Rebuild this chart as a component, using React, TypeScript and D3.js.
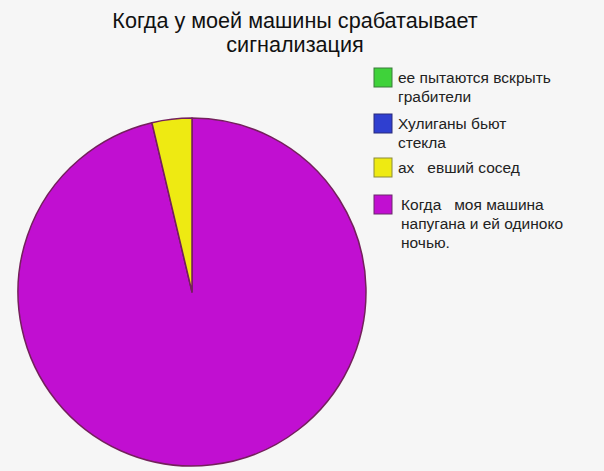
import React, { useEffect, useRef } from "react";
import * as d3 from "d3";

const W = 604;
const H = 471;

const titleLines = ["Когда у моей машины срабатаывает", "сигнализация"];

// legend order, top to bottom
const categories = ["green", "blue", "yellow", "purple"];
const legendLines = [
	["ее пытаются вскрыть", "грабители"],
	["Хулиганы бьют", "стекла"],
	["ах   евший сосед"],
	["Когда   моя машина", "напугана и ей одиноко", "ночью."],
];
const shares = [0, 0, 3.7, 96.3];
const colors = ["#3fd23a", "#2f3fd0", "#eeea12", "#c10fd1"];
const legendBorders = ["#3a7a3a", "#2a2a7a", "#8a8a3a", "#6a2a6a"];

function draw(ref: SVGSVGElement) {
	const svg = d3.select(ref).attr("width", W).attr("height", H).attr("viewBox", `0 0 ${W} ${H}`);
	svg.selectAll("*").remove();

	svg.append("rect").attr("width", W).attr("height", H).attr("fill", "#f6f6f6");

	// title
	svg
		.append("g")
		.selectAll("text")
		.data(titleLines)
		.enter()
		.append("text")
		.attr("x", 295)
		.attr("y", (d, i) => 28 + i * 24)
		.attr("text-anchor", "middle")
		.attr("font-family", "Liberation Sans, Arial, sans-serif")
		.attr("font-size", 21.6)
		.attr("fill", "#111")
		.text((d) => d);

	// pie: purple goes clockwise from 12 o'clock, yellow closes the circle
	const cx = 192;
	const cy = 292;
	const r = 174;
	const order = [3, 2, 1, 0];
	const pie = d3
		.pie<number>()
		.sort(null)
		.value((i) => shares[i]);
	const arcs = pie(order);
	const arc = d3.arc<d3.PieArcDatum<number>>().innerRadius(0).outerRadius(r);

	const pieG = svg.append("g").attr("transform", `translate(${cx},${cy})`);
	pieG
		.selectAll("path")
		.data(arcs.filter((a) => a.value > 0))
		.enter()
		.append("path")
		.attr("d", arc)
		.attr("fill", (d) => colors[d.data])
		.attr("stroke", "#74205c")
		.attr("stroke-width", 1.5)
		.attr("stroke-linejoin", "round");

	// legend
	const legend = svg.append("g").attr("font-family", "Liberation Sans, Arial, sans-serif").attr("font-size", 15.5).attr("fill", "#222");
	const firstBaseline = [83, 129, 173, 210];
	const lineH = 19;
	categories.forEach((c, i) => {
		const y0 = firstBaseline[i];
		legend
			.append("rect")
			.attr("x", 374)
			.attr("y", y0 - 15)
			.attr("width", 18)
			.attr("height", 19)
			.attr("fill", colors[i])
			.attr("stroke", legendBorders[i])
			.attr("stroke-width", 1);
		legend
			.selectAll(`text.l${i}`)
			.data(legendLines[i])
			.enter()
			.append("text")
			.attr("class", `l${i}`)
			.attr("x", i === 3 ? 401 : 398)
			.attr("y", (d, j) => y0 + j * lineH)
			.style("white-space", "pre")
			.text((d) => d);
	});
}

export default function App() {
	const ref = useRef<SVGSVGElement>(null);
	useEffect(() => {
		if (!ref.current) return;
		draw(ref.current);
	}, []);
	return (
		<div style={{ position: "absolute", left: 0, top: 0 }}>
			<svg ref={ref} style={{ display: "block" }} />
		</div>
	);
}
